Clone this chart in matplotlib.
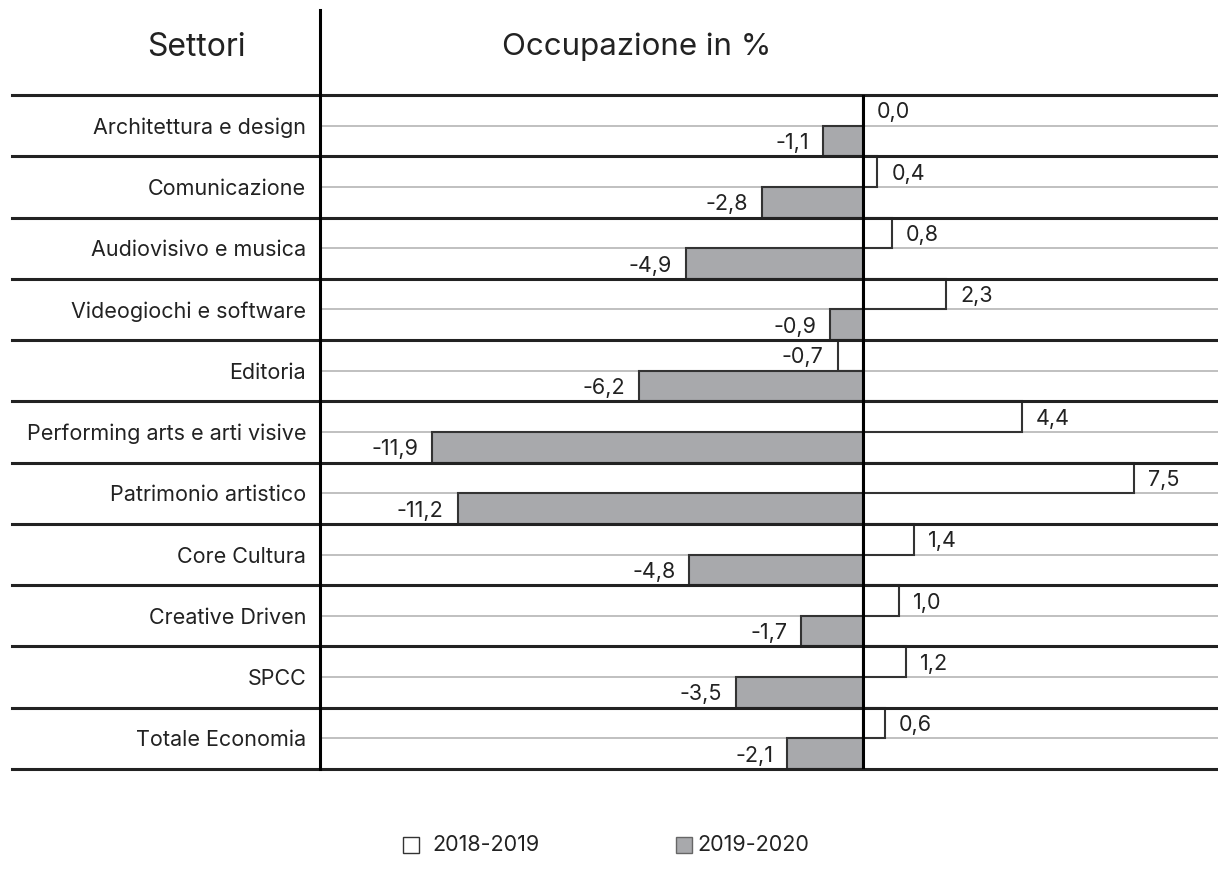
import matplotlib
matplotlib.use("Agg")
import matplotlib.pyplot as plt
from matplotlib.patches import Rectangle

plt.rcParams["font.family"] = ["Inter", "DejaVu Sans"]

settori = ["Architettura e design", "Comunicazione", "Audiovisivo e musica",
           "Videogiochi e software", "Editoria", "Performing arts e arti visive",
           "Patrimonio artistico", "Core Cultura", "Creative Driven", "SPCC",
           "Totale Economia"]
occ_1819 = [0.0, 0.4, 0.8, 2.3, -0.7, 4.4, 7.5, 1.4, 1.0, 1.2, 0.6]
occ_2020 = [-1.1, -2.8, -4.9, -0.9, -6.2, -11.9, -11.2, -4.8, -1.7, -3.5, -2.1]
serie = ["2018-2019", "2019-2020"]

W, H = 1218, 882
fig = plt.figure(figsize=(W / 100, H / 100), dpi=100)
# data area in pixels: x 320..1218, y 95..769
ax = fig.add_axes([320 / W, 1 - 769 / H, (W - 320) / W, (769 - 95) / H])

n = len(settori)
DARK, LIGHT, GREY, TXT = "#222222", "#b5b5b5", "#a8a9ac", "#222222"
FS = 15.5

pos = list(range(n))
ax.barh([i + 0.25 for i in pos], occ_1819, height=0.5, color="white",
        edgecolor="#333333", linewidth=1.5, zorder=3)
ax.barh([i + 0.75 for i in pos], occ_2020, height=0.5, color=GREY,
        edgecolor="#333333", linewidth=1.5, zorder=3)

ax.set_xlim(-15.0, 9.81)
ax.set_ylim(n, 0)

# row separators (extend left over the label column)
left_ext = -(320 - 12) / (W - 320)
for i in range(n + 1):
    ax.axhline(i, xmin=left_ext, xmax=1, color=DARK, lw=2.2, clip_on=False, zorder=4)
for i in range(n):
    ax.axhline(i + 0.5, color=LIGHT, lw=1.2, zorder=1)

ax.axvline(0, color="black", lw=2.2, zorder=5)
ax.axvline(-15.0, ymin=0, ymax=(769 - 10) / (769 - 95), color="black", lw=2.2,
           clip_on=False, zorder=5)

def fmt(v):
    return f"{v:.1f}".replace(".", ",")

for vals, yo in ((occ_1819, 0.25), (occ_2020, 0.75)):
    for i, v in enumerate(vals):
        off = 10 if v >= 0 else -10
        ax.annotate(fmt(v), (v, i + yo), xytext=(off, -1.5), textcoords="offset points",
                    ha="left" if v >= 0 else "right", va="center", fontsize=FS,
                    color=TXT, zorder=6)

ax.set_yticks([i + 0.5 for i in pos])
ax.set_yticklabels(settori, fontsize=FS, color=TXT)
ax.tick_params(axis="y", length=0, pad=10)
ax.set_xticks([])
for s in ax.spines.values():
    s.set_visible(False)

fig.text(196 / W, 1 - 47 / H, "Settori", ha="center", va="center",
         fontsize=23, color=TXT)
fig.text(637 / W, 1 - 47 / H, "Occupazione in %", ha="center", va="center",
         fontsize=22.5, color=TXT)

# legend drawn by hand to match the uneven spacing of the original
leg_y = 845
fig.patches.append(Rectangle((403 / W, 1 - (leg_y + 8) / H), 16 / W, 16 / H,
                             transform=fig.transFigure, facecolor="white",
                             edgecolor="#333333", linewidth=1))
fig.text(432 / W, 1 - leg_y / H, serie[0], ha="left", va="center", fontsize=FS, color=TXT)
fig.patches.append(Rectangle((676 / W, 1 - (leg_y + 8) / H), 16 / W, 16 / H,
                             transform=fig.transFigure, facecolor=GREY,
                             edgecolor="#666666", linewidth=1))
fig.text(697 / W, 1 - leg_y / H, serie[1], ha="left", va="center", fontsize=FS, color=TXT)

fig.savefig("out.png", dpi=100)
